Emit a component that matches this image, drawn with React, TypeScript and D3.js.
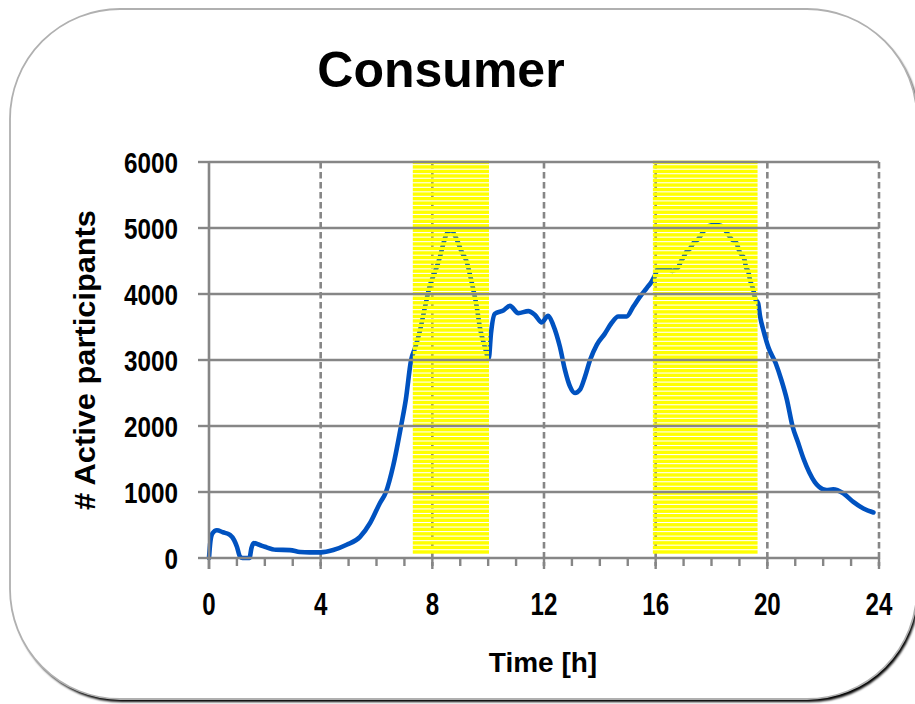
import React from 'react';
import * as d3 from 'd3';

const hours = [
  0, 0.05, 0.12, 0.28, 0.5, 0.75, 0.9, 1.0, 1.11, 1.2, 1.45, 1.52, 1.6, 1.8, 2.0, 2.4, 2.9, 3.26, 3.6, 4.0,
  4.45, 4.93, 5.41, 5.77, 6.12, 6.34, 6.6, 6.88, 7.05, 7.24, 7.38, 7.56, 7.74, 7.92, 8.1, 8.27, 8.4, 8.5, 8.67,
  8.87, 9.05, 9.23, 9.35, 9.47, 9.59, 9.7, 9.88, 10.02, 10.1, 10.24, 10.54, 10.78, 11.08, 11.44, 11.68, 11.92,
  12.15, 12.33, 12.57, 12.75, 12.93, 13.11, 13.29, 13.47, 13.65, 13.89, 14.18, 14.42, 14.66, 14.96, 15.2, 15.44,
  15.68, 15.86, 15.95, 16.1, 16.4, 16.6, 16.8, 16.9, 17.0, 17.1, 17.23, 17.35, 17.52, 17.75, 17.9, 18.1, 18.35,
  18.5, 18.72, 18.9, 18.96, 19.02, 19.14, 19.2, 19.23, 19.32, 19.38, 19.44, 19.5, 19.56, 19.67, 19.74, 19.86,
  20.03, 20.3, 20.5, 20.7, 20.9, 21.1, 21.3, 21.5, 21.7, 21.85, 22.12, 22.36, 22.72, 23.08, 23.44, 23.8,
];
const participants = [
  0, 250, 370, 420, 390, 350, 270, 170, 20, 0, 0, 150, 225, 200, 170, 125, 120, 90, 85, 85,
  120, 200, 320, 530, 830, 1000, 1400, 2000, 2400, 3000, 3180, 3450, 3810, 4140, 4340, 4560, 4770, 4900, 4965,
  4830, 4640, 4490, 4290, 4060, 3810, 3500, 3200, 3020, 3400, 3700, 3750, 3820, 3710, 3740, 3680, 3570,
  3670, 3530, 3200, 2850, 2600, 2500, 2550, 2750, 3000, 3230, 3400, 3560, 3660, 3660, 3810, 3960,
  4090, 4190, 4260, 4390, 4400, 4350, 4400, 4490, 4560, 4640, 4690, 4770, 4830, 4970, 5030, 5050, 5030,
  4960, 4830, 4770, 4690, 4630, 4560, 4490, 4410, 4340, 4210, 4140, 4060, 3930, 3860, 3660, 3450,
  3200, 2950, 2700, 2400, 2000, 1750, 1500, 1300, 1150, 1080, 1030, 1040, 980, 850, 750, 690,
];
const yTicks = [0, 1000, 2000, 3000, 4000, 5000, 6000];
const xTickLabels = [0, 4, 8, 12, 16, 20, 24];
const minorTicks = [0, 1, 2, 3, 4, 5, 6, 7, 8, 9, 10, 11, 12, 13, 14, 15, 16, 17, 18, 19, 20, 21, 22, 23, 24];
const bandStarts = [7.3, 15.9];
const bandEnds = [10.03, 19.65];
const chartTitle = 'Consumer';
const xTitle = 'Time [h]';
const yTitle = '# Active participants';

const FONT = "'Liberation Sans', Arial, sans-serif";
const GRID = '#868686';

export default function App() {
  const x = d3.scaleLinear().domain([0, 24]).range([209, 879]);
  const y = d3.scaleLinear().domain([0, 6000]).range([558, 162]);
  const pts = hours.map((h, i) => [h, participants[i]] as [number, number]);
  const line = d3
    .line<[number, number]>()
    .x((d) => x(d[0]))
    .y((d) => y(d[1]))
    .curve(d3.curveMonotoneX);

  const stripeTop = 158.5;
  const stripeBottom = 553.7;
  const period = 4.53;
  const stripeH = 3.45;
  const stripeYs: number[] = [];
  for (let yb = stripeBottom; yb - stripeH > stripeTop - 0.5; yb -= period) stripeYs.push(yb - stripeH);

  return (
    <svg
      width={915}
      height={704}
      style={{ position: 'absolute', left: 0, top: 0, display: 'block' }}
    >
      <defs>
        <filter id="sh" x="-5%" y="-5%" width="110%" height="110%">
          <feGaussianBlur stdDeviation="0.8" />
        </filter>
      </defs>
      <rect x={0} y={0} width={915} height={704} fill="#fff" />
      {/* frame */}
      <rect x={12} y={12} width={907} height={690} rx={110} ry={110} fill="#000" filter="url(#sh)" />
      <rect x={10} y={9} width={907} height={690} rx={110} ry={110} fill="#fff" stroke="#b0b0b0" strokeWidth={1.8} />

      {/* vertical dashed gridlines */}
      {xTickLabels.slice(1).map((h) => (
        <line
          key={'vg' + h}
          x1={x(h)}
          x2={x(h)}
          y1={y(6000)}
          y2={566}
          stroke={GRID}
          strokeWidth={2.6}
          strokeDasharray="6.5,3.5"
        />
      ))}

      {/* data line */}
      <path d={line(pts) || ''} fill="none" stroke="#0052c0" strokeWidth={4.6} strokeLinejoin="round" strokeLinecap="round" />

      {/* highlight bands (striped) */}
      {bandStarts.map((b, i) => (
        <g key={'band' + i}>
          {stripeYs.map((sy, j) => (
            <rect key={j} x={x(b)} y={sy} width={x(bandEnds[i]) - x(b)} height={stripeH} fill="#ffff00" />
          ))}
        </g>
      ))}

      {/* horizontal gridlines */}
      {yTicks.slice(1).map((v) => (
        <line key={'hg' + v} x1={x(0)} x2={x(24)} y1={y(v)} y2={y(v)} stroke={GRID} strokeWidth={2.4} />
      ))}

      {/* axes */}
      <line x1={x(0)} x2={x(24)} y1={y(0)} y2={y(0)} stroke={GRID} strokeWidth={2.6} />
      <line x1={x(0)} x2={x(0)} y1={y(6000)} y2={569} stroke={GRID} strokeWidth={2.6} />
      {yTicks.map((v) => (
        <line key={'yt' + v} x1={198} x2={x(0)} y1={y(v)} y2={y(v)} stroke={GRID} strokeWidth={2.4} />
      ))}
      {minorTicks.map((h) => (
        <line
          key={'xt' + h}
          x1={x(h)}
          x2={x(h)}
          y1={y(0)}
          y2={h % 4 === 0 ? 569 : 566}
          stroke={GRID}
          strokeWidth={2.4}
        />
      ))}

      {/* tick labels */}
      {yTicks.map((v) => (
        <text
          key={'yl' + v}
          x={178}
          y={y(v) + 10.5}
          textAnchor="end"
          fontFamily={FONT}
          fontWeight="bold"
          fontSize={30}
          textLength={String(v).length * 13.5}
          lengthAdjust="spacingAndGlyphs"
          fill="#000"
        >
          {v}
        </text>
      ))}
      {xTickLabels.map((h) => (
        <text
          key={'xl' + h}
          x={x(h)}
          y={615}
          textAnchor="middle"
          fontFamily={FONT}
          fontWeight="bold"
          fontSize={31}
          textLength={String(h).length * 13.4}
          lengthAdjust="spacingAndGlyphs"
          fill="#000"
        >
          {h}
        </text>
      ))}

      {/* titles */}
      <text x={441} y={87} textAnchor="middle" fontFamily={FONT} fontWeight="bold" fontSize={50} fill="#000">
        {chartTitle}
      </text>
      <text x={543} y={672} textAnchor="middle" fontFamily={FONT} fontWeight="bold" fontSize={28} fill="#000">
        {xTitle}
      </text>
      <text
        transform="translate(95,360) rotate(-90)"
        textAnchor="middle"
        fontFamily={FONT}
        fontWeight="bold"
        fontSize={30}
        textLength={300}
        lengthAdjust="spacingAndGlyphs"
        fill="#000"
      >
        {yTitle}
      </text>
    </svg>
  );
}
